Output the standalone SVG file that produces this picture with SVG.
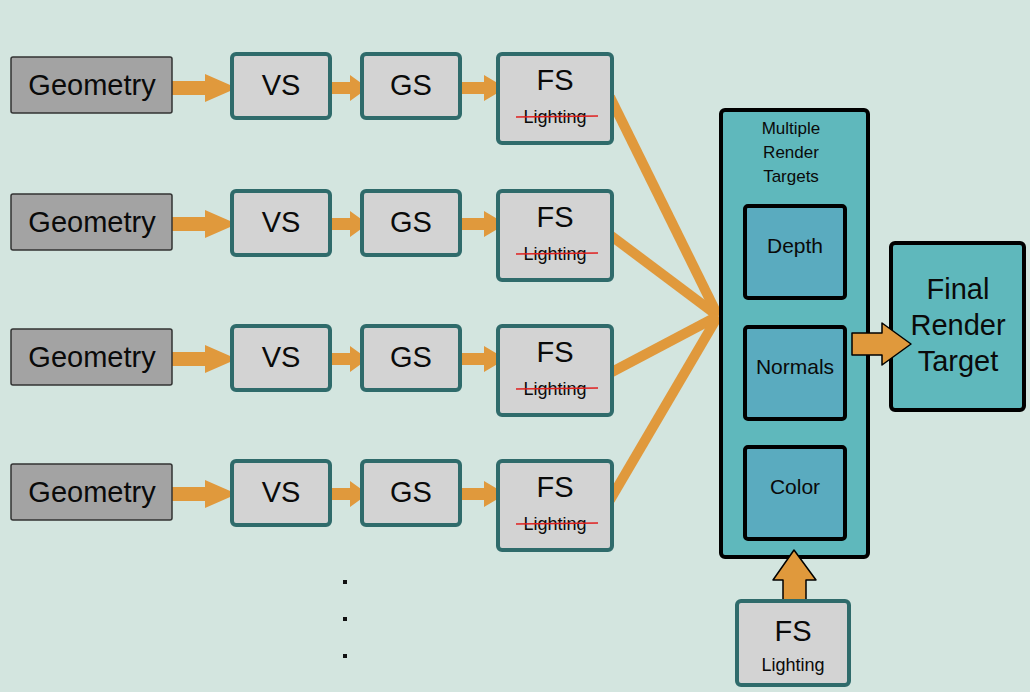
<svg xmlns="http://www.w3.org/2000/svg" width="1030" height="692" viewBox="0 0 1030 692">
<defs>
<style>
.geo{fill:#a3a3a3;stroke:#333;stroke-width:1.5}
.sh{fill:#d3d3d3;stroke:#2f6b6b;stroke-width:4}
.mrt{fill:#5fb8bc;stroke:#000;stroke-width:4}
.tgt{fill:#5aabbf;stroke:#000;stroke-width:4}
.t{font-family:"Liberation Sans",Arial,sans-serif;fill:#0a0a0a;text-anchor:middle}
.big{font-size:29px}
.mid{font-size:21px}
.sm{font-size:17px}
.li{font-size:18px}
.fan{stroke:#e0993c;stroke-width:10;fill:none}
.ar{fill:#e0993c}
.ar2{fill:#e0993c;stroke:#000;stroke-width:1.5;stroke-linejoin:round}
.strike{stroke:#e02020;stroke-width:1.5}
</style>
<g id="arrowA"><polygon class="ar" points="0,-7 39,-7 39,-14 71,0 39,14 39,7 0,7"/></g>
<g id="arrowB"><polygon class="ar" points="0,-6 20,-6 20,-13 38,0 20,13 20,6 0,6"/></g>
<g id="arrowC"><polygon class="ar" points="0,-6 24,-6 24,-13 46,0 24,13 24,6 0,6"/></g>
</defs>
<rect width="1030" height="692" fill="#d3e5df"/>
<g id="connectors">
<line class="fan" x1="610" y1="97" x2="718" y2="316"/>
<line class="fan" x1="610" y1="235" x2="718" y2="316"/>
<line class="fan" x1="610" y1="373" x2="718" y2="316"/>
<line class="fan" x1="610" y1="500" x2="718" y2="316"/>
<use href="#arrowA" x="166" y="88"/>
<use href="#arrowB" x="330" y="88"/>
<use href="#arrowC" x="460" y="88"/>
<use href="#arrowA" x="166" y="224"/>
<use href="#arrowB" x="330" y="224"/>
<use href="#arrowC" x="460" y="224"/>
<use href="#arrowA" x="166" y="359"/>
<use href="#arrowB" x="330" y="359"/>
<use href="#arrowC" x="460" y="359"/>
<use href="#arrowA" x="166" y="494"/>
<use href="#arrowB" x="330" y="494"/>
<use href="#arrowC" x="460" y="494"/>
</g>
<g id="row1">
<g id="geo1"><rect class="geo" x="11" y="57" width="161" height="56" rx="2"/><text class="t big" x="92" y="95">Geometry</text></g>
<g id="vs1"><rect class="sh" x="232" y="54" width="98" height="64" rx="4"/><text class="t big" x="281" y="95">VS</text></g>
<g id="gs1"><rect class="sh" x="362" y="54" width="98" height="64" rx="4"/><text class="t big" x="411" y="95">GS</text></g>
<g id="fs1"><rect class="sh" x="498" y="54" width="114" height="89" rx="4"/><text class="t big" x="555" y="90">FS</text><text class="t li" x="555" y="123">Lighting</text><line class="strike" x1="516" y1="117" x2="598" y2="116"/></g>
</g>
<g id="row2">
<g id="geo2"><rect class="geo" x="11" y="194" width="161" height="56" rx="2"/><text class="t big" x="92" y="232">Geometry</text></g>
<g id="vs2"><rect class="sh" x="232" y="191" width="98" height="64" rx="4"/><text class="t big" x="281" y="232">VS</text></g>
<g id="gs2"><rect class="sh" x="362" y="191" width="98" height="64" rx="4"/><text class="t big" x="411" y="232">GS</text></g>
<g id="fs2"><rect class="sh" x="498" y="191" width="114" height="89" rx="4"/><text class="t big" x="555" y="227">FS</text><text class="t li" x="555" y="260">Lighting</text><line class="strike" x1="516" y1="254" x2="598" y2="253"/></g>
</g>
<g id="row3">
<g id="geo3"><rect class="geo" x="11" y="329" width="161" height="56" rx="2"/><text class="t big" x="92" y="367">Geometry</text></g>
<g id="vs3"><rect class="sh" x="232" y="326" width="98" height="64" rx="4"/><text class="t big" x="281" y="367">VS</text></g>
<g id="gs3"><rect class="sh" x="362" y="326" width="98" height="64" rx="4"/><text class="t big" x="411" y="367">GS</text></g>
<g id="fs3"><rect class="sh" x="498" y="326" width="114" height="89" rx="4"/><text class="t big" x="555" y="362">FS</text><text class="t li" x="555" y="395">Lighting</text><line class="strike" x1="516" y1="389" x2="598" y2="388"/></g>
</g>
<g id="row4">
<g id="geo4"><rect class="geo" x="11" y="464" width="161" height="56" rx="2"/><text class="t big" x="92" y="502">Geometry</text></g>
<g id="vs4"><rect class="sh" x="232" y="461" width="98" height="64" rx="4"/><text class="t big" x="281" y="502">VS</text></g>
<g id="gs4"><rect class="sh" x="362" y="461" width="98" height="64" rx="4"/><text class="t big" x="411" y="502">GS</text></g>
<g id="fs4"><rect class="sh" x="498" y="461" width="114" height="89" rx="4"/><text class="t big" x="555" y="497">FS</text><text class="t li" x="555" y="530">Lighting</text><line class="strike" x1="516" y1="524" x2="598" y2="523"/></g>
</g>
<g id="dots" fill="#111">
<rect x="343" y="580" width="4" height="4"/>
<rect x="343" y="617" width="4" height="4"/>
<rect x="343" y="654" width="4" height="4"/>
</g>
<g id="mrt">
<rect class="mrt" x="721" y="110" width="147" height="447" rx="4"/>
<text class="t sm" x="791" y="134">Multiple</text>
<text class="t sm" x="791" y="158">Render</text>
<text class="t sm" x="791" y="182">Targets</text>
</g>
<g id="depth"><rect class="tgt" x="745" y="206" width="100" height="92" rx="3"/><text class="t mid" x="795" y="253">Depth</text></g>
<g id="normals"><rect class="tgt" x="745" y="327" width="100" height="92" rx="3"/><text class="t mid" x="795" y="374">Normals</text></g>
<g id="color"><rect class="tgt" x="745" y="447" width="100" height="92" rx="3"/><text class="t mid" x="795" y="494">Color</text></g>
<g id="final">
<rect class="mrt" x="891" y="243" width="133" height="167" rx="4"/>
<text class="t big" x="958" y="299">Final</text>
<text class="t big" x="958" y="335">Render</text>
<text class="t big" x="958" y="371">Target</text>
</g>
<g id="connectors2">
<polygon class="ar2" points="852,333 882,333 882,323 911,344 882,365 882,355 852,355"/>
<polygon class="ar2" points="783,612 783,580 773,580 794,550 816,580 806,580 806,612"/>
</g>
<g id="fsl">
<rect class="sh" x="737" y="601" width="112" height="84" rx="4"/>
<text class="t big" x="793" y="641">FS</text>
<text class="t li" x="793" y="671">Lighting</text>
</g>
</svg>
